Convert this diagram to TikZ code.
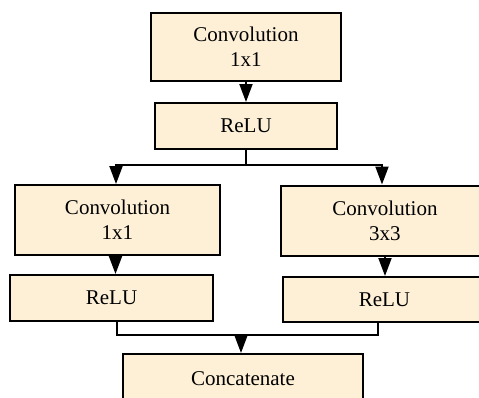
\documentclass[tikz,border=0pt]{standalone}
\usepackage{fontspec}
\setmainfont{Liberation Serif}
\usetikzlibrary{arrows.meta}

\newlength{\du}
\setlength{\du}{0.5pt}

\definecolor{boxfill}{RGB}{253,240,215}
\definecolor{boxline}{RGB}{0,0,0}

\tikzset{
  blk/.style={draw=boxline, fill=boxfill, line width=1pt, align=center,
    inner sep=0pt, font=\fontsize{10.5}{12.5}\selectfont},
  flow/.style={draw=boxline, line width=1pt},
  flowarr/.style={flow, -{Triangle[width=6.5pt,length=9pt]}}
}

\begin{document}
\begin{tikzpicture}[x=\du,y=-\du]
\useasboundingbox (0,0) rectangle (479,398);
% blocks
\node[blk, minimum width=95pt, minimum height=34pt] (conv1) at (246,47) {Convolution\\1x1};
\node[blk, minimum width=91pt, minimum height=23pt] (relu1) at (246,126) {ReLU};
\node[blk, minimum width=102.5pt, minimum height=35pt] (convL) at (117.5,220) {Convolution\\1x1};
\node[blk, minimum width=104pt, minimum height=35pt] (convR) at (385,220.5) {Convolution\\3x3};
\node[blk, minimum width=101.5pt, minimum height=23pt] (reluL) at (111.5,298) {ReLU};
\node[blk, minimum width=101pt, minimum height=22.5pt] (reluR) at (384.5,299.5) {ReLU};
\node[blk, minimum width=120pt, minimum height=25pt] (concat) at (243,379) {Concatenate};
% split and merge points
\coordinate (split) at (246,165);
\coordinate (merge) at (241,335);
% connectors
\draw[flowarr] (conv1.south) -- (relu1.north);
\draw[flow] (relu1.south) -- (split);
\draw[flowarr] (split) -| ([xshift=-0.75pt]convL.north);
\draw[flowarr] (split) -| ([xshift=-1.5pt]convR.north);
\draw[flowarr] ([xshift=-1pt]convL.south) -- ([xshift=-1pt]convL.south |- reluL.north);
\draw[flowarr] (convR.south) -- (convR.south |- reluR.north);
\draw[flow] ([xshift=2.75pt]reluL.south) |- (merge) -| ([xshift=-3.25pt]reluR.south);
\draw[flowarr] (merge) -- (merge |- concat.north);
\end{tikzpicture}
\end{document}
